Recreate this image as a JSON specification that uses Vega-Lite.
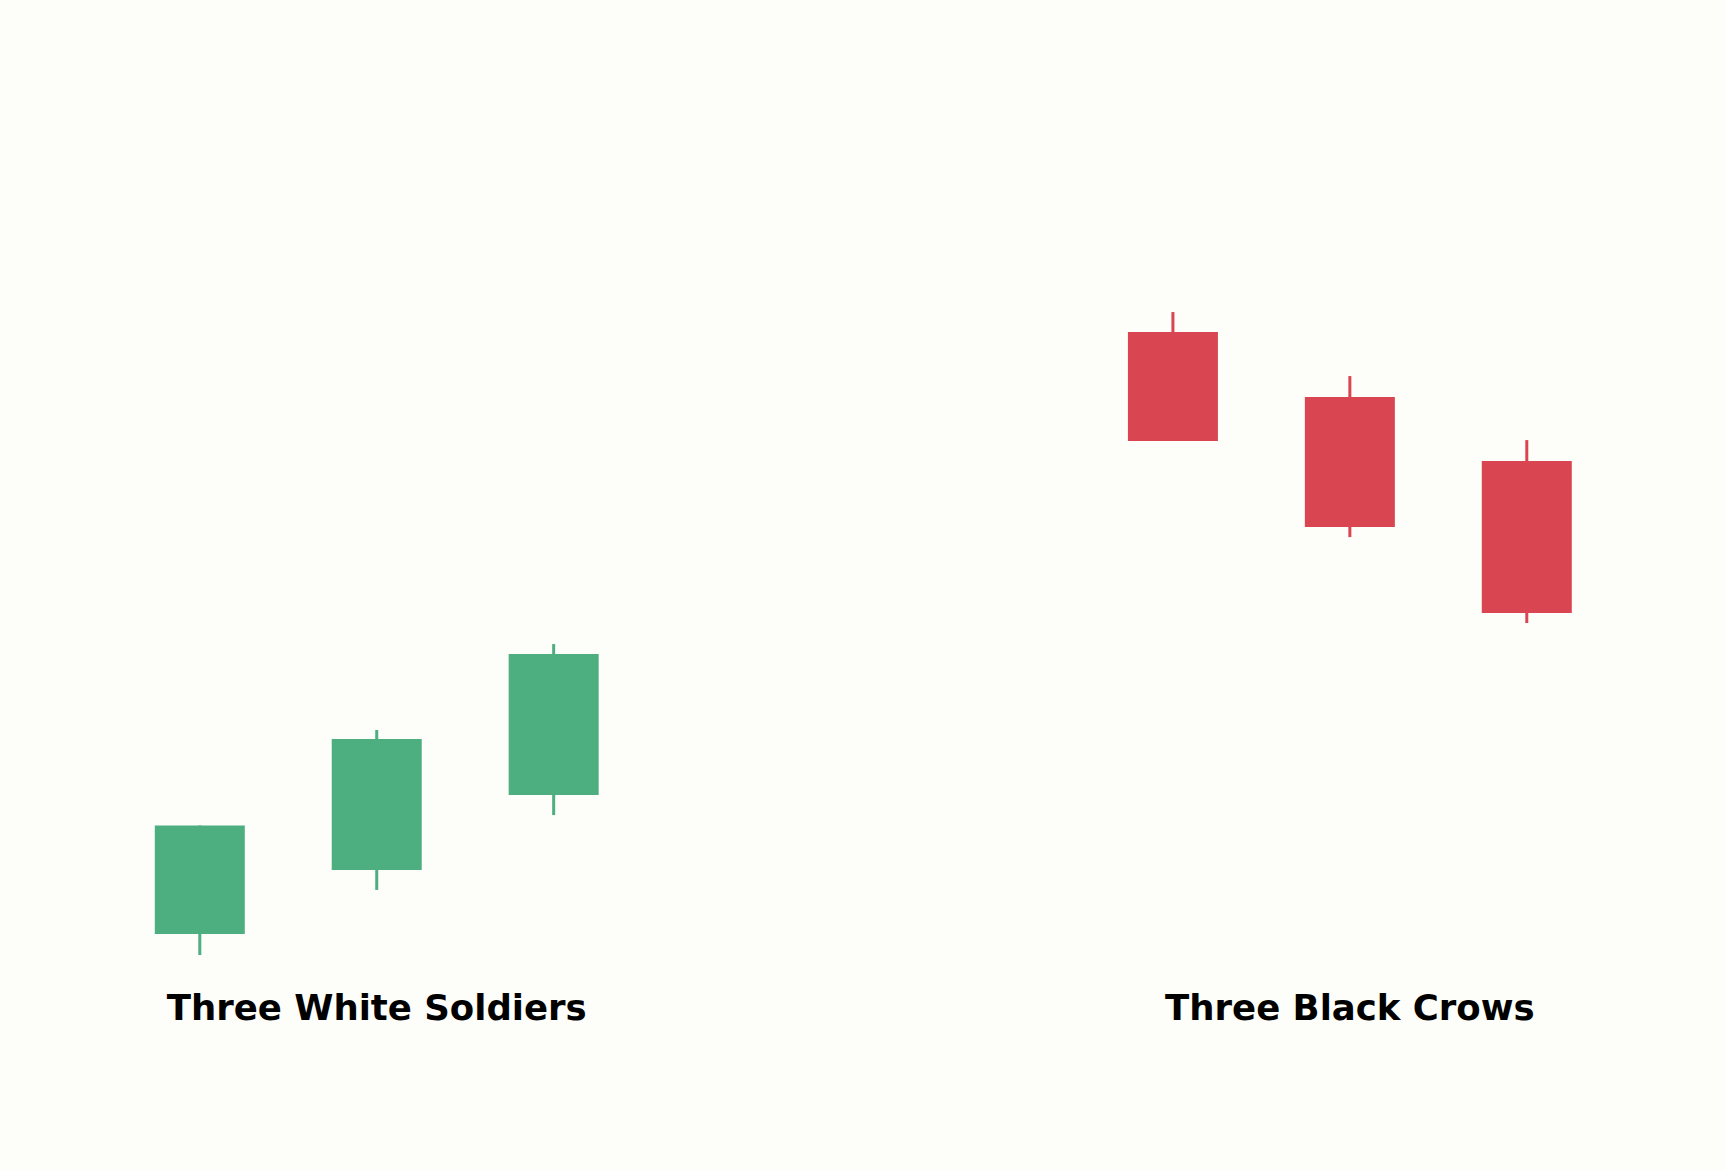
{
  "$schema": "https://vega.github.io/schema/vega-lite/v6.json",
  "width": 1725,
  "height": 1170,
  "autosize": {"type": "fit", "contains": "padding"},
  "padding": 0,
  "background": "#fdfdf9",
  "datasets": {
    "candles": [
      {"pos": 0, "open": 10.0, "close": 15.0, "high": 15.0, "low": 9.03, "pattern": "soldiers"},
      {"pos": 1, "open": 12.95, "close": 18.99, "high": 19.4, "low": 12.03, "pattern": "soldiers"},
      {"pos": 2, "open": 16.4, "close": 22.9, "high": 23.36, "low": 15.48, "pattern": "soldiers"},
      {"pos": 5.5, "open": 37.74, "close": 32.72, "high": 38.66, "low": 32.72, "pattern": "crows"},
      {"pos": 6.5, "open": 34.75, "close": 28.76, "high": 35.71, "low": 28.29, "pattern": "crows"},
      {"pos": 7.5, "open": 31.8, "close": 24.79, "high": 32.76, "low": 24.33, "pattern": "crows"}
    ],
    "labels": [
      {"pos": 1, "level": 6.04, "text": "Three White Soldiers"},
      {"pos": 6.5, "level": 6.04, "text": "Three Black Crows"}
    ]
  },
  "config": {
    "view": {"stroke": null},
    "axis": {"disable": true}
  },
  "layer": [
    {
      "data": {"name": "candles"},
      "mark": {"type": "rule", "strokeWidth": 3},
      "encoding": {
        "x": {"field": "pos", "type": "quantitative", "scale": {"domain": [-1.101, 8.592], "nice": false, "zero": false}, "axis": null},
        "y": {"field": "low", "type": "quantitative", "scale": {"domain": [-0.876, 53.04], "nice": false, "zero": false}, "axis": null},
        "y2": {"field": "high"},
        "color": {
          "field": "pattern",
          "type": "nominal",
          "scale": {"domain": ["soldiers", "crows"], "range": ["#4daf7f", "#d94551"]},
          "legend": null
        }
      }
    },
    {
      "data": {"name": "candles"},
      "mark": {"type": "bar", "size": 90},
      "encoding": {
        "x": {"field": "pos", "type": "quantitative"},
        "y": {"field": "open", "type": "quantitative"},
        "y2": {"field": "close"},
        "color": {"field": "pattern", "type": "nominal", "legend": null}
      }
    },
    {
      "data": {"name": "labels"},
      "mark": {
        "type": "text",
        "font": "DejaVu Sans",
        "fontWeight": "bold",
        "fontSize": 35.5,
        "baseline": "alphabetic",
        "align": "center",
        "color": "#000000"
      },
      "encoding": {
        "x": {"field": "pos", "type": "quantitative"},
        "y": {"field": "level", "type": "quantitative"},
        "text": {"field": "text"}
      }
    }
  ]
}
